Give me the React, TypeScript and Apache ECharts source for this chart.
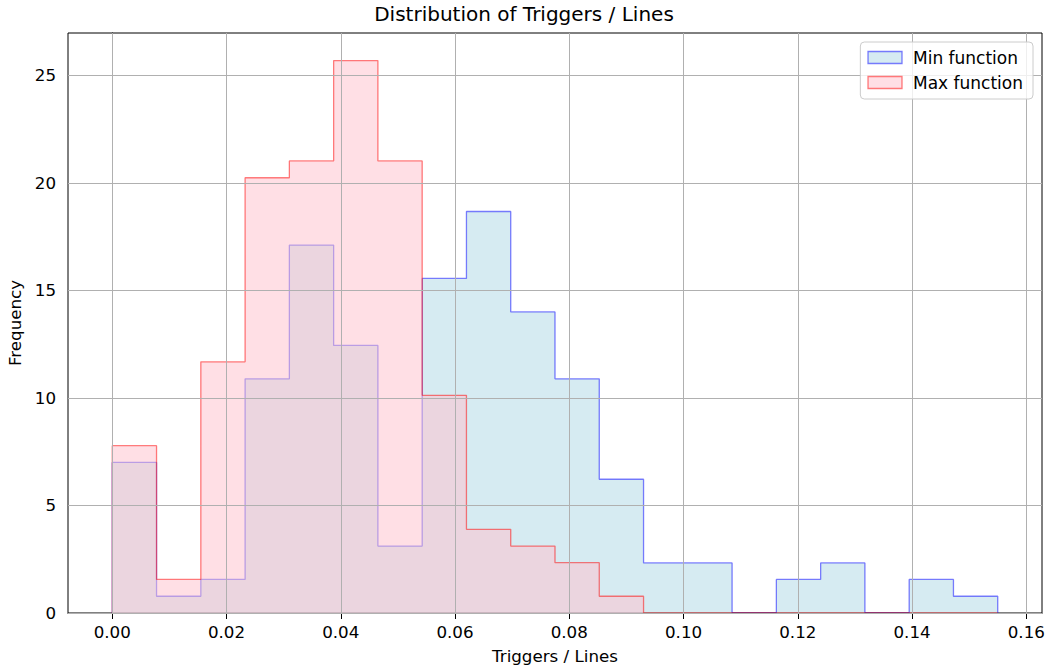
import React, { useEffect, useRef } from "react";
import * as echarts from "echarts";

// Shared histogram bin edges (20 bins)
const binEdges = [
  0, 0.00775, 0.0155, 0.02325, 0.031, 0.03875, 0.0465, 0.05425, 0.062, 0.06975,
  0.0775, 0.08525, 0.093, 0.10075, 0.1085, 0.11625, 0.124, 0.13175, 0.1395,
  0.14725, 0.155,
];

// Bin heights (frequency)
const minFunction = [
  7.0, 0.78, 1.56, 10.89, 17.11, 12.44, 3.11, 15.56, 18.67, 14.0, 10.89, 6.22,
  2.33, 2.33, 0, 1.56, 2.33, 0, 1.56, 0.78,
];
const maxFunction = [
  7.78, 1.56, 11.68, 20.24, 21.02, 25.69, 21.02, 10.12, 3.89, 3.11, 2.34, 0.78,
  0, 0, 0, 0, 0, 0, 0, 0,
];

const xTicks = [0, 0.02, 0.04, 0.06, 0.08, 0.1, 0.12, 0.14, 0.16];
const yTicks = [0, 5, 10, 15, 20, 25];

const seriesNames = ["Min function", "Max function"];

const FONT = "DejaVu Sans";

function stepOutline(edges: number[], counts: number[]) {
  const pts: number[][] = [[edges[0], 0]];
  for (let i = 0; i < counts.length; i++) {
    pts.push([edges[i], counts[i]]);
    pts.push([edges[i + 1], counts[i]]);
  }
  pts.push([edges[edges.length - 1], 0]);
  return pts;
}

export default function App() {
  const ref = useRef<HTMLDivElement>(null);

  useEffect(() => {
    if (!ref.current) return;
    const chart = echarts.init(ref.current, null, { renderer: "svg" });

    const minFill = "rgba(173,216,230,0.5)";
    const minEdge = "rgba(0,0,255,0.5)";
    const maxFill = "rgba(255,192,203,0.5)";
    const maxEdge = "rgba(255,0,0,0.5)";

    chart.setOption({
      animation: false,
      backgroundColor: "#ffffff",
      textStyle: { fontFamily: FONT },
      title: {
        text: "Distribution of Triggers / Lines",
        left: "center",
        top: 4,
        padding: 0,
        textStyle: {
          fontFamily: FONT,
          fontSize: 20,
          fontWeight: "normal",
          color: "#000",
        },
      },
      legend: {
        orient: "vertical",
        right: 15,
        top: 42,
        z: 10,
        icon: "rect",
        itemWidth: 34,
        itemHeight: 12,
        itemGap: 8,
        padding: [7, 10, 8, 7],
        backgroundColor: "rgba(255,255,255,0.8)",
        borderColor: "#cccccc",
        borderWidth: 1,
        borderRadius: 4,
        textStyle: {
          fontFamily: FONT,
          fontSize: 17,
          lineHeight: 17,
          color: "#000",
          padding: [0, 0, 0, 6],
        },
        selectedMode: false,
        data: [
          {
            name: seriesNames[0],
            itemStyle: { color: minFill, borderColor: minEdge, borderWidth: 1.3 },
          },
          {
            name: seriesNames[1],
            itemStyle: { color: maxFill, borderColor: maxEdge, borderWidth: 1.3 },
          },
        ],
      },
      grid: {
        left: 68,
        right: 6,
        top: 33,
        bottom: 55,
        containLabel: false,
        outerBoundsMode: "none",
        show: true,
        borderColor: "#000",
        borderWidth: 1,
        backgroundColor: "transparent",
      },
      xAxis: {
        type: "value",
        min: -0.00775,
        max: 0.16275,
        name: "Triggers / Lines",
        nameLocation: "middle",
        nameGap: 34,
        nameTextStyle: { fontFamily: FONT, fontSize: 16.7, color: "#000" },
        axisLine: { show: true, onZero: false, lineStyle: { color: "#000", width: 1 } },
        axisTick: {
          show: true,
          length: 6,
          customValues: xTicks,
          lineStyle: { color: "#000", width: 1 },
        },
        axisLabel: {
          customValues: xTicks,
          formatter: (v: number) => v.toFixed(2),
          fontFamily: FONT,
          fontSize: 16.7,
          color: "#000",
          margin: 10,
        },
        splitLine: { show: false },
      },
      yAxis: {
        type: "value",
        min: 0,
        max: 26.97,
        name: "Frequency",
        nameLocation: "middle",
        nameGap: 40,
        nameTextStyle: { fontFamily: FONT, fontSize: 16.7, color: "#000" },
        axisLine: { show: true, lineStyle: { color: "#000", width: 1 } },
        axisTick: {
          show: true,
          length: 6,
          customValues: yTicks,
          lineStyle: { color: "#000", width: 1 },
        },
        axisLabel: {
          customValues: yTicks,
          formatter: (v: number) => String(v),
          fontFamily: FONT,
          fontSize: 16.7,
          color: "#000",
          margin: 12,
        },
        splitLine: { show: false },
      },
      series: [
        {
          name: seriesNames[0],
          type: "line",
          data: stepOutline(binEdges, minFunction),
          symbol: "none",
          showSymbol: false,
          silent: true,
          z: 2,
          itemStyle: { color: minFill, borderColor: minEdge },
          lineStyle: { color: minEdge, width: 1.3 },
          areaStyle: { color: minFill, opacity: 1, origin: "start" },
          emphasis: { disabled: true },
        },
        {
          name: seriesNames[1],
          type: "line",
          data: stepOutline(binEdges, maxFunction),
          symbol: "none",
          showSymbol: false,
          silent: true,
          z: 3,
          itemStyle: { color: maxFill, borderColor: maxEdge },
          lineStyle: { color: maxEdge, width: 1.3 },
          areaStyle: { color: maxFill, opacity: 1, origin: "start" },
          emphasis: { disabled: true },
          markLine: {
            silent: true,
            symbol: "none",
            z: 5,
            label: { show: false },
            emphasis: { disabled: true },
            lineStyle: { color: "#b0b0b0", width: 1, type: "solid" },
            data: [
              ...xTicks.map((v) => ({ xAxis: v })),
              ...yTicks.map((v) => ({ yAxis: v })),
            ],
          },
        },
      ],
    });

    return () => chart.dispose();
  }, []);

  return (
    <div
      ref={ref}
      style={{ position: "fixed", left: 0, top: 0, width: 1048, height: 668 }}
    />
  );
}
